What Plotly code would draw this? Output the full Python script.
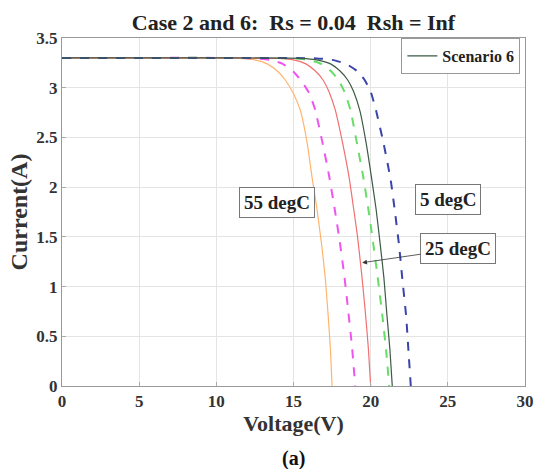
import plotly.graph_objects as go

# I-V curves (voltage in V, current in A) read per temperature
# Scenario 6 (solid) and Case 2 (dashed)
v_s6_55 = [0, 5, 10, 11.5, 12.5, 13.3, 14.0, 14.5, 15.0, 15.45, 15.9, 16.2, 16.5, 16.8, 17.05, 17.25, 17.4, 17.5]
i_s6_55 = [3.3, 3.3, 3.3, 3.295, 3.28, 3.24, 3.16, 3.07, 2.94, 2.77, 2.43, 2.1, 1.8, 1.45, 1.1, 0.7, 0.35, 0.0]

v_c2_55 = [0, 5, 10, 12.5, 13.5, 14.3, 15.0, 15.5, 16.0, 16.4, 16.9, 17.3, 17.7, 18.0, 18.3, 18.55, 18.8, 19.0]
i_c2_55 = [3.3, 3.3, 3.3, 3.295, 3.28, 3.24, 3.16, 3.07, 2.95, 2.78, 2.43, 2.12, 1.75, 1.45, 1.1, 0.75, 0.38, 0.0]

v_s6_25 = [0, 5, 10, 14.0, 15.0, 15.8, 16.4, 16.9, 17.3, 17.7, 18.2, 18.6, 18.9, 19.15, 19.4, 19.65, 19.85, 20.0]
i_s6_25 = [3.3, 3.3, 3.3, 3.295, 3.28, 3.24, 3.17, 3.08, 2.96, 2.78, 2.43, 2.1, 1.78, 1.5, 1.15, 0.75, 0.38, 0.0]

v_c2_25 = [0, 5, 10, 15.0, 16.0, 16.8, 17.4, 17.9, 18.3, 18.7, 19.1, 19.5, 19.85, 20.15, 20.45, 20.75, 21.0, 21.2]
i_c2_25 = [3.3, 3.3, 3.3, 3.295, 3.28, 3.24, 3.17, 3.08, 2.96, 2.77, 2.45, 2.12, 1.78, 1.45, 1.1, 0.72, 0.36, 0.0]

v_s6_5 = [0, 5, 10, 15.5, 16.5, 17.4, 18.0, 18.5, 18.9, 19.3, 19.7, 20.05, 20.35, 20.6, 20.85, 21.05, 21.25, 21.4]
i_s6_5 = [3.3, 3.3, 3.3, 3.295, 3.28, 3.24, 3.17, 3.08, 2.96, 2.77, 2.45, 2.1, 1.78, 1.45, 1.1, 0.72, 0.36, 0.0]

v_c2_5 = [0, 5, 10, 16.5, 17.5, 18.4, 19.1, 19.6, 20.0, 20.35, 20.85, 21.3, 21.6, 21.85, 22.05, 22.3, 22.45, 22.6]
i_c2_5 = [3.3, 3.3, 3.3, 3.295, 3.28, 3.24, 3.17, 3.08, 2.96, 2.77, 2.43, 2.07, 1.72, 1.4, 1.08, 0.7, 0.35, 0.0]

x_ticks = [0, 5, 10, 15, 20, 25, 30]
y_ticks = [0, 0.5, 1, 1.5, 2, 2.5, 3, 3.5]

SERIF = "Liberation Serif"

curves = [
    (v_s6_55, i_s6_55, "#ffb46e", "solid", 1.2, False),
    (v_c2_55, i_c2_55, "#ee55ee", "dash", 2.0, False),
    (v_s6_25, i_s6_25, "#f07070", "solid", 1.2, False),
    (v_c2_25, i_c2_25, "#66dd66", "dash", 2.0, False),
    (v_c2_5, i_c2_5, "#3a44aa", "dash", 2.0, False),
    (v_s6_5, i_s6_5, "#3d5a45", "solid", 1.2, True),
]

fig = go.Figure()
for v, i, color, dash, width, leg in curves:
    fig.add_trace(go.Scatter(
        x=v, y=i, mode="lines",
        line=dict(color=color, dash=dash, width=width, shape="spline", smoothing=0.5),
        name="<b>Scenario 6</b>", showlegend=leg,
    ))

box = dict(bordercolor="#777777", borderwidth=1, bgcolor="white", borderpad=4,
           font=dict(family=SERIF, size=19, color="#222222"))

fig.add_annotation(x=13.95, y=1.85, text="<b>55 degC</b>", showarrow=False, **box)
fig.add_annotation(x=25.0, y=1.88, text="<b>5 degC</b>", showarrow=False, **box)
fig.add_annotation(x=19.45, y=1.24, ax=25.65, ay=1.38, axref="x", ayref="y",
                   text="<b>25 degC</b>", showarrow=True, arrowhead=2,
                   arrowsize=1.2, arrowwidth=0.8, arrowcolor="#333333", **box)

fig.add_annotation(x=0.5, y=-0.2075, xref="paper", yref="paper",
                   yanchor="middle",
                   text="<b>(a)</b>", showarrow=False,
                   font=dict(family=SERIF, size=20, color="#111111"))

axis_common = dict(
    showgrid=True, gridcolor="#e4e4e4", gridwidth=1,
    showline=True, linecolor="#999999", linewidth=1, mirror=True,
    ticks="inside", ticklen=4, tickcolor="#aaaaaa",
    zeroline=False,
    tickfont=dict(family=SERIF, size=17, color="#333333"),
)

fig.update_xaxes(range=[0, 30], tickvals=x_ticks,
                 ticktext=[f"<b>{t}</b>" for t in x_ticks],
                 title=dict(text="<b>Voltage(V)</b>", standoff=4,
                            font=dict(family=SERIF, size=22, color="#333333")),
                 **axis_common)
fig.update_yaxes(range=[0, 3.5], tickvals=y_ticks,
                 ticktext=[f"<b>{t:g}</b>" for t in y_ticks],
                 title=dict(text="<b>Current(A)</b>", standoff=1,
                            font=dict(family=SERIF, size=24, color="#333333")),
                 **axis_common)

fig.update_layout(
    width=546, height=469,
    margin=dict(l=62, r=12, t=38, b=83),
    paper_bgcolor="white", plot_bgcolor="white",
    title=dict(text="<b>Case 2 and 6:  Rs = 0.04  Rsh = Inf</b>",
               x=0.5, xanchor="center", xref="paper",
               y=1 - 22 / 469, yanchor="middle", yref="container",
               font=dict(family=SERIF, size=22, color="#222222")),
    legend=dict(x=0.99, y=1.0, xanchor="right", yanchor="top",
                bordercolor="#999999", borderwidth=1, bgcolor="white",
                font=dict(family=SERIF, size=16, color="#222222"),
                itemwidth=30, tracegroupgap=0),
)

fig.write_html("out.html")
